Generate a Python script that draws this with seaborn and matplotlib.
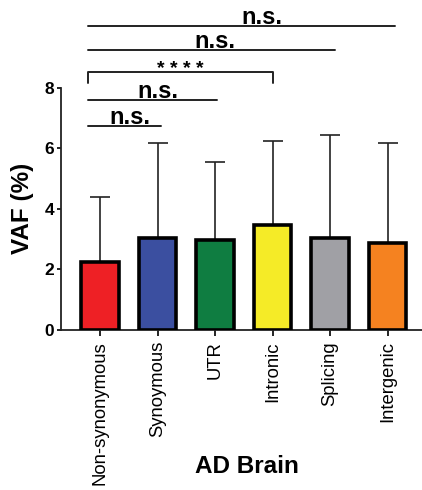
import matplotlib
matplotlib.use("Agg")
import matplotlib.pyplot as plt
import seaborn as sns
import pandas as pd

# Variant allele fraction by variant class (AD brain)
categories = ["Non-synonymous", "Synoymous", "UTR", "Intronic", "Splicing", "Intergenic"]
vaf_mean = [2.25, 3.05, 2.97, 3.47, 3.05, 2.87]
vaf_sd = [2.15, 3.14, 2.58, 2.78, 3.39, 3.32]
bar_colors = ["#EE2025", "#3B4FA0", "#0F7D41", "#F5EB27", "#A0A0A5", "#F58220"]

# Pairwise comparisons against Non-synonymous: (end category index, label)
comparisons = [(1, "n.s."), (2, "n.s."), (3, "****"), (4, "n.s."), (5, "n.s.")]

df = pd.DataFrame({"category": categories, "vaf": vaf_mean})

sns.set_style("ticks")
plt.rcParams["font.family"] = ["Liberation Sans", "DejaVu Sans"]
plt.rcParams["text.color"] = "black"
plt.rcParams["xtick.color"] = "black"
plt.rcParams["ytick.color"] = "black"
plt.rcParams["axes.labelcolor"] = "black"

W, H = 422, 490
fig = plt.figure(figsize=(W / 100, H / 100), dpi=100)
ax_left, ax_right, ax_bottom, ax_top = 61, 422, 330, 9
ax = fig.add_axes([ax_left / W, (H - ax_bottom) / H,
                   (ax_right - ax_left) / W, (ax_bottom - ax_top) / H])

sns.barplot(data=df, x="category", y="vaf", hue="category", palette=bar_colors,
            saturation=1, legend=False, errorbar=None, width=0.65,
            edgecolor="black", linewidth=2.6, ax=ax, zorder=3)

xs = list(range(len(categories)))
ax.errorbar(xs, vaf_mean, yerr=[[0] * len(vaf_sd), vaf_sd], fmt="none",
            ecolor="#222222", elinewidth=1.2, capsize=7.5, capthick=1.2, zorder=2)

ax.set_xlim(-0.68, 5.6)
ax.set_ylim(0, 10.6)
ax.set_yticks([0, 2, 4, 6, 8])
ax.spines["left"].set_bounds(0, 8)
ax.spines["top"].set_visible(False)
ax.spines["right"].set_visible(False)
for s in ("left", "bottom"):
    ax.spines[s].set_linewidth(1.3)
    ax.spines[s].set_color("#222222")

ax.tick_params(axis="y", length=3, width=1.2, pad=2, labelsize=12.5)
ax.tick_params(axis="x", length=4, width=1.2, pad=4, labelsize=13.3,
               labelrotation=90)
for lab in ax.get_yticklabels():
    lab.set_fontweight("bold")
for lab in ax.get_xticklabels():
    lab.set_verticalalignment("top")

ax.set_xlabel("AD Brain", fontsize=17.5, fontweight="bold")
ax.set_ylabel("VAF (%)", fontsize=17.5, fontweight="bold")
ax.xaxis.set_label_coords((247 - ax_left) / (ax_right - ax_left),
                          -(455 - ax_bottom) / (ax_bottom - ax_top))
ax.yaxis.set_label_coords(-(61 - 34) / (ax_right - ax_left), 0.38)

# Comparison bars stacked above the plot, all starting left of the first bar
x_start = -0.21
line_heights = [6.73, 7.59, 8.51, 9.24, 10.03]
line_ends = [1.06, 2.03, 3.0, 4.08, 5.13]
label_x = [0.51, 1.00, 1.40, 2.00, 2.81]
for (end_idx, label), y, x_end, lx in zip(comparisons, line_heights,
                                          line_ends, label_x):
    if label.startswith("*"):
        ax.plot([x_start, x_start, x_end, x_end], [y - 0.36, y, y, y - 0.36],
                color="#222222", lw=1.4, clip_on=False, zorder=4)
        ax.text(lx, y - 0.05, "* " * 3 + "*",
                ha="center", va="baseline", fontsize=14, fontweight="bold")
    else:
        ax.plot([x_start, x_end], [y, y], color="#222222", lw=1.4,
                clip_on=False, zorder=4)
        ax.text(lx, y + 0.07, label, ha="center",
                va="baseline", fontsize=17, fontweight="bold")

fig.savefig("out.png", dpi=100)
